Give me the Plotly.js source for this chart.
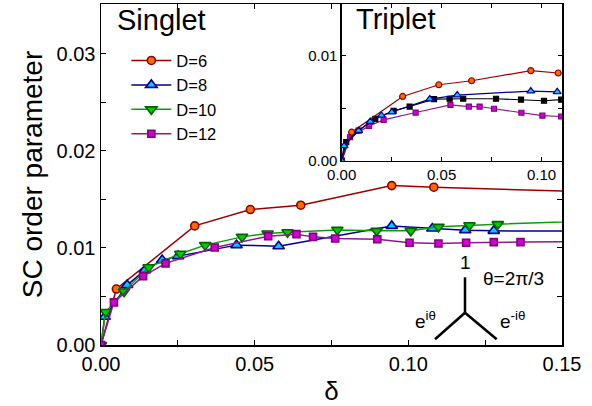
<!DOCTYPE html>
<html>
<head>
<meta charset="utf-8">
<script src="https://cdn.plot.ly/plotly-3.0.1.min.js"></script>
<style>html,body{margin:0;padding:0;background:#fff;}#chart{width:592px;height:406px;}</style>
</head>
<body>
<div id="chart"></div>
<script>
// ---- Data ----
const seriesNames = ["D=6", "D=8", "D=10", "D=12"];

// Singlet (main panel)
const d6Delta  = [0, 0.005, 0.0305, 0.0486, 0.065, 0.0946, 0.1083, 0.1667];
const d6Main   = [0, 0.00576, 0.01226, 0.01394, 0.01439, 0.01641, 0.01624, 0.0157];

const d8Delta  = [0, 0.0012, 0.0085, 0.0143, 0.0199, 0.0251, 0.0441, 0.0578, 0.0946, 0.1078, 0.1185, 0.1278, 0.1667];
const d8Main   = [0, 0.00291, 0.00617, 0.00771, 0.00874, 0.00915, 0.01028, 0.01017, 0.01226, 0.01199, 0.01182, 0.01175, 0.0117];

const d10Delta = [0, 0.0015, 0.0075, 0.0155, 0.0258, 0.0339, 0.0459, 0.0542, 0.0607, 0.0769, 0.0897, 0.1008, 0.1098, 0.1199, 0.1291, 0.1667];
const d10Main  = [0, 0.0034, 0.0055, 0.0080, 0.0094, 0.01028, 0.01113, 0.01148, 0.01161, 0.01185, 0.01175, 0.01175, 0.01216, 0.01233, 0.01244, 0.01285];

const d12Delta = [0, 0.0042, 0.0137, 0.021, 0.037, 0.0544, 0.0636, 0.069, 0.0762, 0.0899, 0.1004, 0.1098, 0.1188, 0.1278, 0.1365, 0.1667];
const d12Main  = [0, 0.00439, 0.00709, 0.0084, 0.01004, 0.0112, 0.01141, 0.01113, 0.01097, 0.01089, 0.01052, 0.01045, 0.01052, 0.01059, 0.01059, 0.01065];

// Triplet (inset)
const d6TripDelta  = [0, 0.005, 0.0305, 0.0486, 0.065, 0.0946, 0.1083];
const d6Trip       = [0, 0.00271, 0.00611, 0.00722, 0.0076, 0.00856, 0.00834];
const d8TripDelta  = [0, 0.0012, 0.0085, 0.0143, 0.0199, 0.0251, 0.0441, 0.0578, 0.0946, 0.1078];
const d8Trip       = [0, 0.0014, 0.00286, 0.00372, 0.0043, 0.00462, 0.00586, 0.00624, 0.00662, 0.00655];
const d10TripDelta = [0, 0.0023, 0.0085, 0.0168, 0.026, 0.034, 0.0462, 0.054, 0.0608, 0.0772, 0.0897, 0.1012, 0.1098];
const d10Trip      = [0, 0.00176, 0.00286, 0.00398, 0.00474, 0.00515, 0.00586, 0.00589, 0.00589, 0.00589, 0.0058, 0.0057, 0.0058];
const d12TripDelta = [0, 0.0042, 0.0137, 0.021, 0.037, 0.0544, 0.0636, 0.069, 0.0762, 0.0899, 0.1004, 0.1098];
const d12Trip      = [0, 0.00223, 0.00331, 0.00388, 0.00458, 0.00531, 0.00515, 0.00515, 0.00494, 0.00456, 0.00428, 0.0042];

// ---- Styles ----
const FONT = "Liberation Sans, Arial, sans-serif";
const st = {
  d6:  {line: "#9b0000", fill: "#ff6a00", edge: "#8b0000", sym: "circle", size: 8, isize: 6},
  d8:  {line: "#00008b", fill: "#00ccff", edge: "#000090", sym: "triangle-up", size: 10, isize: 7},
  d10: {line: "#109a10", fill: "#00cc00", edge: "#006400", sym: "triangle-down", size: 10, isize: 7},
  d12: {line: "#8b1a8b", fill: "#d000d0", edge: "#800080", sym: "square", size: 7, isize: 5}
};

function mainTrace(x, y, s, name) {
  return {x: x, y: y, name: name, type: "scatter", mode: "lines+markers",
    xaxis: "x", yaxis: "y",
    line: {color: s.line, width: 1.5},
    marker: {symbol: s.sym, size: s.size, color: s.fill, line: {color: s.edge, width: 1.6}}};
}
function insetTrace(x, y, s, lineColor, fill, edge) {
  return {x: x, y: y, type: "scatter", mode: "lines+markers", showlegend: false,
    xaxis: "x2", yaxis: "y2",
    line: {color: lineColor || s.line, width: 1.2},
    marker: {symbol: s.sym, size: s.isize, color: fill || s.fill, line: {color: edge || s.edge, width: 1.2}}};
}

const traces = [
  mainTrace(d6Delta, d6Main, st.d6, seriesNames[0]),
  mainTrace(d8Delta, d8Main, st.d8, seriesNames[1]),
  mainTrace(d10Delta, d10Main, st.d10, seriesNames[2]),
  mainTrace(d12Delta, d12Main, st.d12, seriesNames[3]),
  insetTrace(d12TripDelta, d12Trip, st.d12),
  insetTrace(d10TripDelta, d10Trip, {sym: "square", isize: 5}, "#000000", "#000000", "#000000"),
  insetTrace(d6TripDelta, d6Trip, st.d6),
  insetTrace(d8TripDelta, d8Trip, st.d8)
];

const axCommon = {
  showline: true, linecolor: "#000", linewidth: 1.5, mirror: "ticks",
  ticks: "inside", ticklen: 5, tickwidth: 1.2, tickcolor: "#000",
  showgrid: false, zeroline: false, tickformat: ".2f"
};

const toPx = (px) => (px - 101) / 461;
const toPy = (py) => (345 - py) / 341;

const layout = {
  width: 592, height: 406,
  margin: {l: 101, r: 30, t: 4, b: 61},
  paper_bgcolor: "#fff", plot_bgcolor: "#fff",
  font: {family: FONT, color: "#000"},
  showlegend: true,
  legend: {x: 0.055, y: 0.885, xanchor: "left", yanchor: "top",
    bgcolor: "rgba(0,0,0,0)", font: {size: 16.5, family: FONT}, tracegroupgap: 0, itemwidth: 40},
  xaxis: Object.assign({}, axCommon, {
    domain: [0, 1], range: [0, 0.15], dtick: 0.05, tick0: 0,
    minor: {dtick: 0.025, ticks: "inside", ticklen: 5, tickcolor: "#000", tickwidth: 1.2},
    tickfont: {size: 20, family: FONT},
    title: {text: "δ", font: {size: 26, family: FONT}, standoff: 8},
    anchor: "y"
  }),
  yaxis: Object.assign({}, axCommon, {
    domain: [0, 1], range: [0, 0.0351], dtick: 0.01, tick0: 0,
    minor: {dtick: 0.005, ticks: "inside", ticklen: 5, tickcolor: "#000", tickwidth: 1.2},
    tickfont: {size: 20, family: FONT},
    title: {text: "SC order parameter", font: {size: 28, family: FONT}, standoff: 6},
    anchor: "x"
  }),
  xaxis2: Object.assign({}, axCommon, {
    domain: [0.522, 1], range: [0, 0.1102], dtick: 0.05, tick0: 0,
    minor: {dtick: 0.025, ticks: "inside", ticklen: 4, tickcolor: "#000", tickwidth: 1},
    tickfont: {size: 15, family: FONT}, ticklen: 4, linewidth: 1.2,
    anchor: "y2"
  }),
  yaxis2: Object.assign({}, axCommon, {
    domain: [0.5405, 1], range: [0, 0.0149], dtick: 0.01, tick0: 0,
    minor: {dtick: 0.005, ticks: "inside", ticklen: 4, tickcolor: "#000", tickwidth: 1},
    tickfont: {size: 15, family: FONT}, ticklen: 4, linewidth: 1.2,
    anchor: "x2"
  }),
  shapes: [
    {type: "line", xref: "paper", yref: "paper", x0: toPx(465), y0: toPy(312.7), x1: toPx(465), y1: toPy(277.3), line: {color: "#000", width: 2.5}},
    {type: "line", xref: "paper", yref: "paper", x0: toPx(465), y0: toPy(312.7), x1: toPx(435), y1: toPy(339.3), line: {color: "#000", width: 2.5}},
    {type: "line", xref: "paper", yref: "paper", x0: toPx(465), y0: toPy(312.7), x1: toPx(496.7), y1: toPy(339.3), line: {color: "#000", width: 2.5}}
  ],
  annotations: [
    {text: "Singlet", xref: "paper", yref: "paper", x: toPx(115), y: toPy(20), xanchor: "left", yanchor: "middle", showarrow: false, font: {size: 29, family: FONT}},
    {text: "Triplet", xref: "paper", yref: "paper", x: toPx(354), y: toPy(19), xanchor: "left", yanchor: "middle", showarrow: false, font: {size: 29, family: FONT}},
    {text: "1", xref: "paper", yref: "paper", x: toPx(465), y: toPy(262), xanchor: "center", yanchor: "middle", showarrow: false, font: {size: 19, family: FONT}},
    {text: "θ=2π/3", xref: "paper", yref: "paper", x: toPx(513), y: toPy(278), xanchor: "center", yanchor: "middle", showarrow: false, font: {size: 19, family: FONT}},
    {text: "e<sup>iθ</sup>", xref: "paper", yref: "paper", x: toPx(425), y: toPy(320), xanchor: "center", yanchor: "middle", showarrow: false, font: {size: 19, family: FONT}},
    {text: "e<sup>-iθ</sup>", xref: "paper", yref: "paper", x: toPx(512), y: toPy(320), xanchor: "center", yanchor: "middle", showarrow: false, font: {size: 19, family: FONT}}
  ]
};

Plotly.newPlot("chart", traces, layout, {displayModeBar: false, staticPlot: true});
</script>
</body>
</html>
